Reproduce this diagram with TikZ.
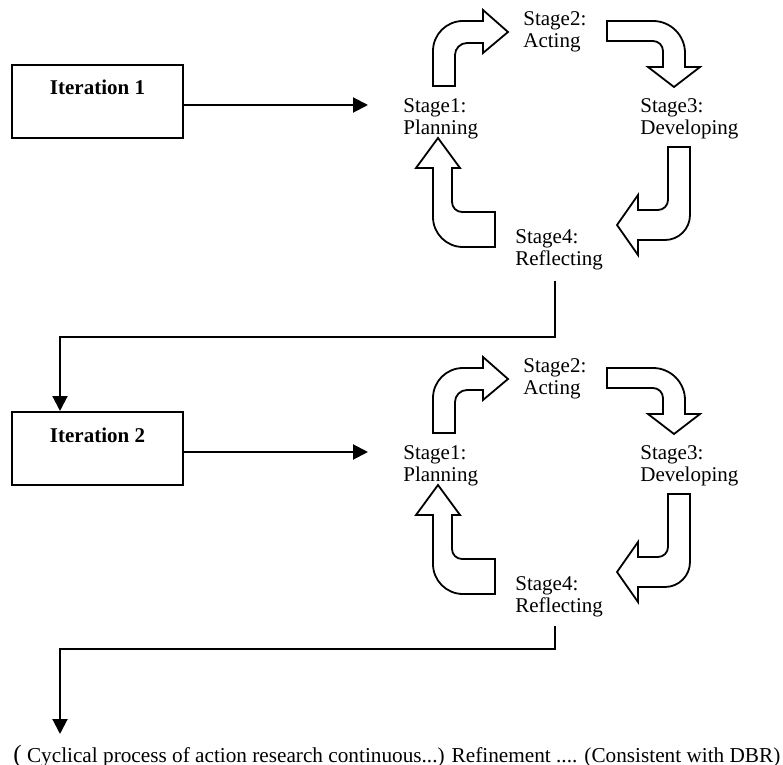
\documentclass[tikz,border=0pt]{standalone}
\usepackage{fontspec}
\setmainfont{Liberation Serif}
\usetikzlibrary{arrows.meta}

\begin{document}
\begin{tikzpicture}[x=0.5pt, y=-0.5pt, font=\fontsize{10.5}{11.25}\selectfont,
  >={Triangle[length=7.5pt,width=7.5pt]},
  iterbox/.style={draw, line width=1pt, minimum width=85.5pt, inner sep=0pt,
    text height=15pt, text depth=21.5pt, font=\fontsize{10.5}{11.25}\selectfont\bfseries},
  stagelabel/.style={anchor=north west, inner sep=0pt, align=left},
  bent/.style={draw, line width=0.9pt},
  conn/.style={line width=1pt}]

\useasboundingbox (0,0) rectangle (783,765);

% one action research cycle per iteration
\foreach \k/\dy in {1/0, 2/347} {
  \begin{scope}[shift={(0,\dy)}]
    \node[iterbox] (iter\k) at (97.5,101.5) {Iteration \k};
    \node[stagelabel] (plan\k) at (403,98) {Stage1:\\Planning};
    \node[stagelabel] (act\k) at (523,11) {Stage2:\\Acting};
    \node[stagelabel] (dev\k) at (640,98) {Stage3:\\Developing};
    \node[stagelabel] (refl\k) at (515,229) {Stage4:\\Reflecting};
    \coordinate (in\k) at (368,105);
    \draw[conn,->] (iter\k.east |- in\k) -- (in\k);
    % bent block arrows
    \draw[bent] (433,86) -- (433,51) arc[start angle=180, end angle=270, radius=30]
      -- (483,21) -- (483,10) -- (508,32) -- (483,53) -- (483,43)
      -- (467,43) arc[start angle=270, end angle=180, radius=12] -- (455,86) -- cycle;
    \draw[bent] (607,21) -- (653,21) arc[start angle=270, end angle=360, radius=32]
      -- (685,67) -- (700,67) -- (674,87) -- (648,67) -- (663,67)
      -- (663,51) arc[start angle=0, end angle=-90, radius=10] -- (607,41) -- cycle;
    \draw[bent] (690,147) -- (690,215) arc[start angle=0, end angle=90, radius=25]
      -- (638,240) -- (638,255) -- (617,225) -- (638,195) -- (638,210)
      -- (658,210) arc[start angle=90, end angle=0, radius=10] -- (668,147) -- cycle;
    \draw[bent] (495,247) -- (463,247) arc[start angle=90, end angle=180, radius=30]
      -- (433,168) -- (416,168) -- (438,138) -- (460,168) -- (452,168)
      -- (452,202) arc[start angle=180, end angle=90, radius=10] -- (495,212) -- cycle;
  \end{scope}
}

\path (555,281) coordinate (out1)
      (60,337) coordinate (turn1)
      (555,626) coordinate (out2)
      (60,649) coordinate (turn2)
      (60,734) coordinate (end2);
\draw[conn,->] (out1) |- (turn1) -- (iter2.north -| turn1);
\draw[conn,->] (out2) |- (turn2) -- (end2);

\node[anchor=base west, inner sep=0pt, font=\fontsize{10.62}{11.25}\selectfont] (note) at (13,762)
  {{\fontsize{12.5}{12.5}\selectfont(} Cyclical process of action research continuous...) Refinement .... (Consistent with DBR)};

\end{tikzpicture}
\end{document}
